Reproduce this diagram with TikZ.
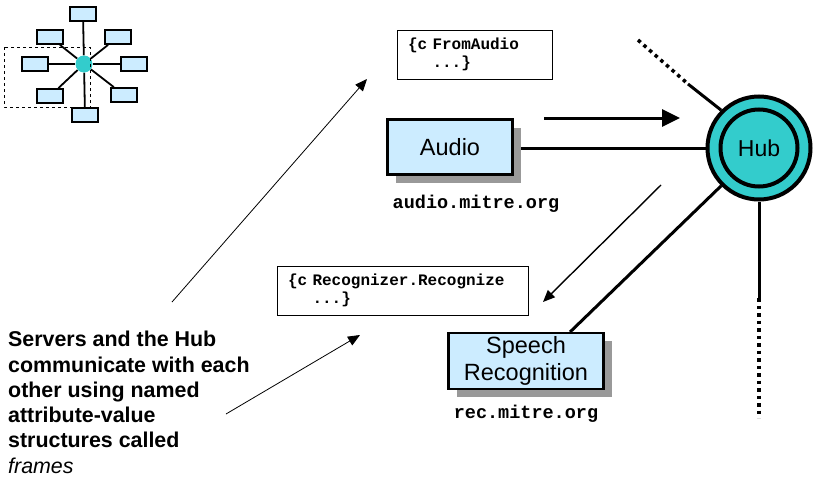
\documentclass[tikz,border=0pt]{standalone}
\usepackage{fontspec}
\setmainfont{Liberation Sans}
\newfontfamily\codefont{Liberation Mono}
\usetikzlibrary{arrows.meta,positioning,calc,shadows,backgrounds}
\definecolor{paleblue}{HTML}{CCECFF}
\definecolor{hubteal}{HTML}{33CCCC}
\definecolor{shade}{HTML}{999999}

\begin{document}
\begin{tikzpicture}[
  x=1pt,y=-1pt,
  server/.style={rectangle,draw=black,line width=2.5pt,fill=paleblue,align=center,
    font=\fontsize{23.5}{27}\selectfont,
    drop shadow={shadow xshift=8pt,shadow yshift=-8pt,fill=shade,opacity=1}},
  frame/.style={rectangle,draw=black,line width=0.8pt,fill=white,align=left,inner xsep=11pt,
    font=\codefont\bfseries\fontsize{16}{18}\selectfont},
  host/.style={font=\codefont\bfseries\fontsize{18.5}{20}\selectfont,inner sep=0pt},
  mini/.style={rectangle,draw=black,line width=1.8pt,fill=paleblue,
    minimum width=26pt,minimum height=14pt,inner sep=0pt},
  link/.style={line width=3pt},
  dotlink/.style={line width=3.5pt,dash pattern=on 3.5pt off 4pt},
  darr/.style={-{Triangle[length=18pt,width=17pt]},line width=3pt},
  tarr/.style={-{Triangle[length=12pt,width=10pt]},line width=0.8pt}
]
\useasboundingbox (0,0) rectangle (815,479);

% small star picture, top left
\node[circle,fill=hubteal,minimum size=17pt,inner sep=0pt] (minihub) at (84,64) {};
\foreach \name/\x/\y in {mt/83/14,mul/50/37,mur/118/37,ml/35/64,mr/134/64,mll/50/96,mlr/124/95,mb/85/115}
  \node[mini] (\name) at (\x,\y) {};
\begin{scope}[on background layer]
  \foreach \name in {mt,mul,mur,ml,mr,mll,mlr,mb}
    \draw[line width=1.8pt] (minihub) -- (\name);
\end{scope}
\draw[dashed,line width=0.7pt] (4,47) rectangle (90,107);

% hub and servers
\node[circle,draw=black,line width=4pt,fill=hubteal,minimum size=103pt,inner sep=0pt] (hub) at (759,148) {};
\node[circle,draw=black,line width=4pt,minimum size=77pt,inner sep=0pt,
  font=\fontsize{23}{26}\selectfont] (hubcore) at (hub) {Hub};

\node[server,minimum width=125pt,minimum height=55pt] (audio) at (450,147) {Audio};
\node[host] (audiohost) at (476,204) {audio.mitre.org};

\node[server,minimum width=155pt,minimum height=55pt] (speech) at (526,361) {Speech\\Recognition};
\node[host] (rechost) at (526,414) {rec.mitre.org};

\node[frame,text width=133pt,minimum height=49pt] (fromaudio) at (474.5,54.5)
  {\{c FromAudio\\\hphantom{\{c\ }...\}};
\node[frame,text width=229pt,minimum height=49pt] (recognize) at (402.5,290.5)
  {\{c Recognizer.Recognize\\\hphantom{\{c\ }...\}};

\node[anchor=north west,inner sep=0pt,align=left,
  font=\bfseries\fontsize{21.4}{25.3}\selectfont] (note) at (8,331)
  {Servers and the Hub\\communicate with each\\other using named\\attribute-value\\structures called\\\mdseries\itshape frames};

% connectors
\coordinate (farA) at (638,40);
\coordinate (farB) at (688,84);
\coordinate (farC) at (759,298);
\coordinate (farD) at (759,418);
\begin{scope}[on background layer]
  \draw[link] (hub.west) -- (hub.west -| audio.east);
  \draw[link] (hub.225) -- ($(speech.north west)!0.78!(speech.north east)$);
  \draw[link] (farB) -- (hub.135);
  \draw[link] (hub.south) -- (farC);
\end{scope}
\draw[dotlink] (farA) -- (farB);
\draw[dotlink] (farC) -- (farD);

\coordinate (sendA) at (544,118);
\coordinate (sendB) at (680,118);
\draw[darr] (sendA) -- (sendB);
\coordinate (recvA) at (661,185);
\coordinate (recvB) at (543,302);
\draw[tarr,line width=1.4pt] (recvA) -- (recvB);

\coordinate (noteA) at (172,302);
\coordinate (noteB) at (367,79);
\draw[tarr] (noteA) -- (noteB);
\coordinate (noteC) at (226,414);
\coordinate (noteD) at (360,335);
\draw[tarr] (noteC) -- (noteD);
\end{tikzpicture}
\end{document}
